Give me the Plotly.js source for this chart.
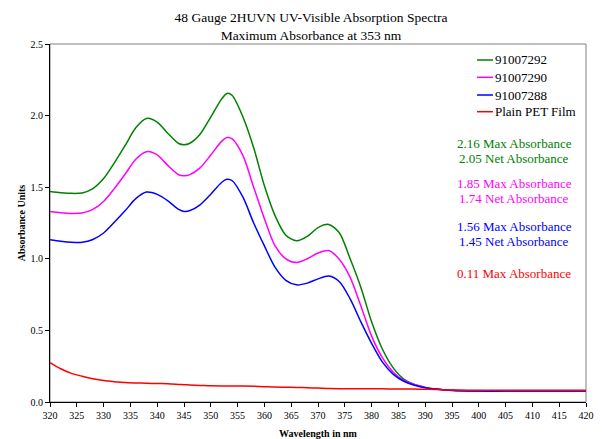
<!DOCTYPE html>
<html>
<head>
<meta charset="utf-8">
<script src="https://cdn.plot.ly/plotly-3.0.1.min.js"></script>
<style>
html,body{margin:0;padding:0;background:#fff;}
#chart{width:602px;height:439px;}
</style>
</head>
<body>
<div id="chart"></div>
<script>
// ---- data ----
const wavelength = [320,322,324,326,328,330,332,334,336,338,340,342,344,345,346,348,350,352,353,354,356,358,360,362,364,366,368,370,372,374,376,378,380,382,384,386,388,390,392,395,400,405,410,415,420];
const seriesNames = ['91007292','91007290','91007288','Plain PET Film'];
const abs91007292 = [1.47,1.462,1.457,1.46,1.49,1.56,1.67,1.79,1.915,1.98,1.955,1.875,1.805,1.797,1.805,1.87,1.99,2.115,2.155,2.14,1.99,1.775,1.51,1.30,1.165,1.126,1.156,1.218,1.24,1.18,1.0,0.8,0.56,0.37,0.24,0.16,0.122,0.102,0.09,0.082,0.078,0.078,0.078,0.078,0.078];
const abs91007290 = [1.331,1.322,1.317,1.32,1.345,1.40,1.49,1.59,1.695,1.748,1.725,1.651,1.587,1.58,1.586,1.635,1.725,1.82,1.847,1.837,1.72,1.50,1.28,1.09,1.0,0.974,1.0,1.04,1.058,0.995,0.87,0.67,0.46,0.31,0.21,0.15,0.122,0.102,0.09,0.082,0.078,0.078,0.078,0.078,0.078];
const abs91007288 = [1.133,1.122,1.115,1.115,1.135,1.18,1.255,1.335,1.42,1.466,1.45,1.405,1.345,1.331,1.335,1.377,1.451,1.533,1.555,1.545,1.43,1.25,1.09,0.94,0.85,0.818,0.83,0.86,0.88,0.84,0.72,0.56,0.41,0.28,0.195,0.145,0.117,0.1,0.09,0.08,0.076,0.076,0.076,0.076,0.076];
const absPET = [0.275,0.232,0.2,0.18,0.163,0.15,0.142,0.136,0.133,0.131,0.129,0.127,0.123,0.121,0.119,0.116,0.113,0.112,0.112,0.112,0.112,0.11,0.107,0.104,0.103,0.102,0.1,0.097,0.094,0.093,0.093,0.093,0.093,0.092,0.091,0.09,0.09,0.089,0.088,0.083,0.082,0.082,0.082,0.082,0.082];
const maxAbsLabels = ['2.16','1.85','1.56','0.11'];
const netAbsLabels = ['2.05','1.74','1.45',null];
const seriesColors = ['#008000','#ff00ff','#0000ff','#ff0000'];

const allSeries = [abs91007292, abs91007290, abs91007288, absPET];
const FONT = '"Liberation Serif", "Times New Roman", serif';

// ---- geometry helpers (layout only) ----
const W = 602, H = 439;
const M = {l:50, r:16, t:44, b:37};
const PW = W - M.l - M.r, PH = H - M.t - M.b;
const px2paperX = px => (px - M.l) / PW;
const px2paperY = py => (H - M.b - py) / PH;

const traces = allSeries.map((ys, i) => ({
  x: wavelength,
  y: ys,
  type: 'scatter',
  mode: 'lines',
  name: seriesNames[i],
  line: {color: seriesColors[i], width: 1.5, shape: 'spline', smoothing: 0.8},
  hoverinfo: 'skip',
  showlegend: false
}));

const annotations = [];
const shapes = [{
  type: 'rect', xref: 'paper', yref: 'paper',
  x0: 0, x1: 1, y0: 0, y1: 1,
  line: {color: '#808080', width: 1}, layer: 'below'
}];

// legend (drawn by hand so the key lines and spacing match)
const legendY = [60, 77.3, 95, 111.7];
seriesNames.forEach((name, i) => {
  shapes.push({
    type: 'line', xref: 'paper', yref: 'paper',
    x0: px2paperX(477), x1: px2paperX(493),
    y0: px2paperY(legendY[i]), y1: px2paperY(legendY[i]),
    line: {color: seriesColors[i], width: 1.5}
  });
  annotations.push({
    xref: 'paper', yref: 'paper',
    x: px2paperX(493), y: px2paperY(legendY[i]),
    xanchor: 'left', yanchor: 'middle',
    text: name, showarrow: false,
    font: {family: FONT, size: 13, color: '#000'}
  });
});

// annotation blocks
const annYMax = [143.3, 183.3, 226.7, 273.3];
maxAbsLabels.forEach((v, i) => {
  annotations.push({
    xref: 'paper', yref: 'paper',
    x: px2paperX(514), y: px2paperY(annYMax[i]),
    xanchor: 'center', yanchor: 'middle',
    text: v + ' Max Absorbance', showarrow: false,
    font: {family: FONT, size: 13, color: seriesColors[i]}
  });
  if (netAbsLabels[i] !== null) {
    annotations.push({
      xref: 'paper', yref: 'paper',
      x: px2paperX(514), y: px2paperY(annYMax[i] + 15),
      xanchor: 'center', yanchor: 'middle',
      text: netAbsLabels[i] + ' Net Absorbance', showarrow: false,
      font: {family: FONT, size: 13, color: seriesColors[i]}
    });
  }
});

const layout = {
  width: W, height: H,
  margin: M,
  paper_bgcolor: '#fff', plot_bgcolor: '#fff',
  font: {family: FONT, color: '#000'},
  showlegend: false,
  title: {
    text: '48 Gauge 2HUVN UV-Visible Absorption Spectra<br>Maximum Absorbance at 353 nm',
    font: {family: FONT, size: 13.5, color: '#000'},
    xref: 'container', yref: 'container',
    x: 311 / W, xanchor: 'center',
    y: 1 - 22 / H, yanchor: 'top'
  },
  xaxis: {
    range: [320, 420], dtick: 5, tick0: 320,
    showgrid: false, zeroline: false,
    showline: true, linecolor: '#000', linewidth: 1,
    ticks: 'outside', ticklen: 4, tickcolor: '#000', tickwidth: 1,
    tickfont: {family: FONT, size: 10, color: '#000'},
    title: {text: '<b>Wavelength in nm</b>', font: {family: FONT, size: 10, color: '#000'}, standoff: 14},
    fixedrange: true
  },
  yaxis: {
    range: [0, 2.5], dtick: 0.5, tick0: 0, tickformat: '.1f',
    showgrid: false, zeroline: false,
    showline: true, linecolor: '#000', linewidth: 1,
    ticks: 'outside', ticklen: 4, tickcolor: '#000', tickwidth: 1,
    tickfont: {family: FONT, size: 10, color: '#000'},
    title: {text: '<b>Absorbance Units</b>', font: {family: FONT, size: 10, color: '#000'}, standoff: 3},
    fixedrange: true
  },
  shapes: shapes,
  annotations: annotations
};

Plotly.newPlot('chart', traces, layout, {displayModeBar: false, staticPlot: true});
</script>
</body>
</html>
